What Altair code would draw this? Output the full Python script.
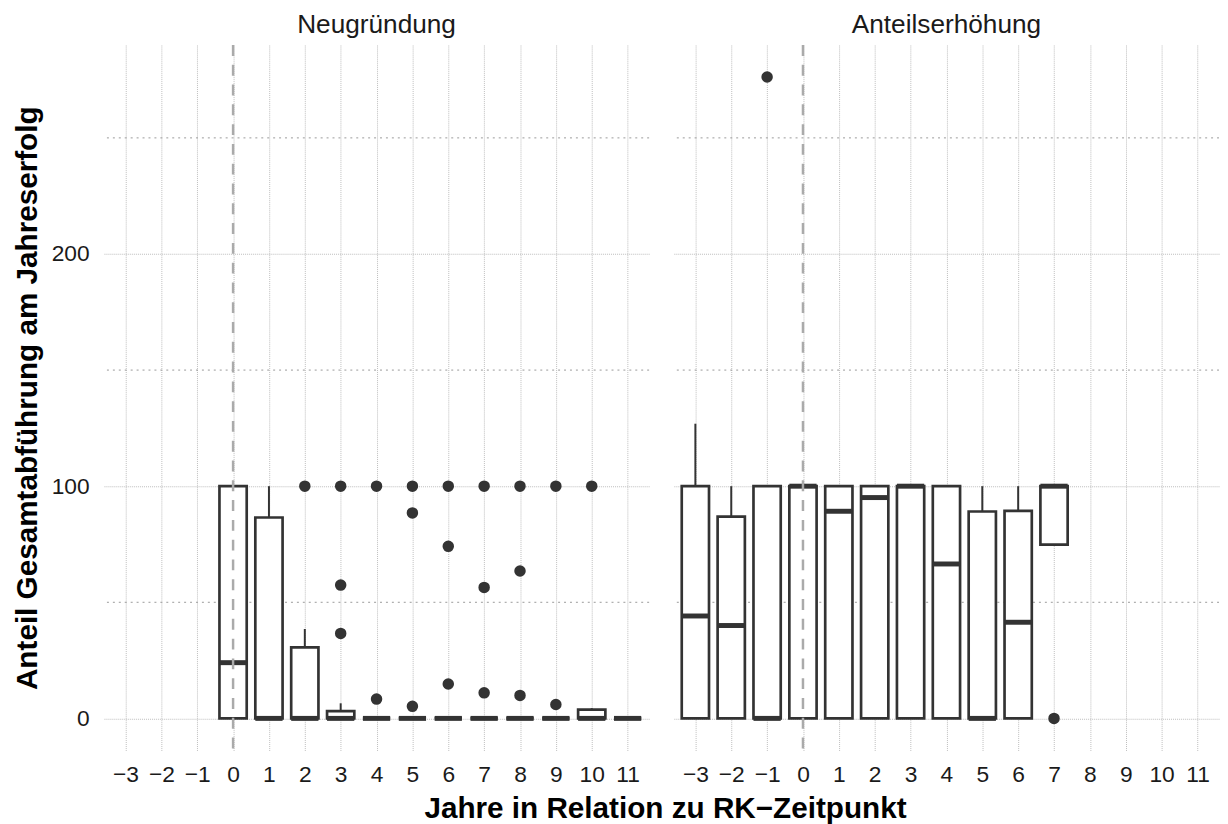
import altair as alt
import pandas as pd

# ---- data ----
# Neugründung: boxplot summaries per year
neu_years = [0, 1, 2, 3, 4, 5, 6, 7, 8, 9, 10, 11]
neu_q1 = [0, 0, 0, 0, 0, 0, 0, 0, 0, 0, 0, 0]
neu_med = [24, 0, 0, 0, 0, 0, 0, 0, 0, 0, 0, 0]
neu_q3 = [100, 86.5, 30.6, 3.1, 0, 0, 0, 0, 0, 0, 3.8, 0]
neu_lo = [0, 0, 0, 0, 0, 0, 0, 0, 0, 0, 0, 0]
neu_hi = [100, 100, 38.5, 6.5, 0, 0, 0, 0, 0, 0, 4.4, 0]
neu_out_years = [2, 3, 3, 3, 4, 4, 5, 5, 5, 6, 6, 6, 7, 7, 7, 8, 8, 8, 9, 9, 10]
neu_out_vals = [100, 100, 57.4, 36.6, 100, 8.3, 100, 88.5, 5.2, 100, 74.1, 14.8,
                100, 56.4, 11.0, 100, 63.5, 9.9, 100, 6.0, 100]

# Anteilserhöhung
ant_years = [-3, -2, -1, 0, 1, 2, 3, 4, 5, 6, 7]
ant_q1 = [0, 0, 0, 0, 0, 0, 0, 0, 0, 0, 74.8]
ant_med = [44.1, 40.0, 0, 100, 89.2, 95.1, 100, 66.5, 0, 41.4, 100]
ant_q3 = [100, 86.9, 100, 100, 100, 100, 100, 100, 89.1, 89.4, 100]
ant_lo = [0, 0, 0, 0, 0, 0, 0, 0, 0, 0, 74.8]
ant_hi = [126.9, 100, 100, 100, 100, 100, 100, 100, 100, 100, 100]
ant_out_years = [-1, 7]
ant_out_vals = [276.2, 0]

x_ticks = list(range(-3, 12))
y_major = [0, 100, 200]
y_minor = [50, 150, 250]
ref_line = [0]

FONT = "Liberation Sans"
DARK = "#333333"
GRID = "#bdbdbd"
W, H = 551, 713
HALF = 0.38

xs = alt.Scale(domain=[-3.6, 11.6], nice=False, zero=False)
ys = alt.Scale(domain=[-13.8, 290], nice=False, zero=False)


def panel(title, years, q1, med, q3, lo, hi, oy, ov, show_y):
    box = pd.DataFrame(dict(year=years, q1=q1, med=med, q3=q3, lo=lo, hi=hi))
    out = pd.DataFrame(dict(year=oy, value=ov))

    xaxis = alt.Axis(values=x_ticks, grid=True, gridDash=[1, 1], gridColor=GRID,
                     gridWidth=1, ticks=False, domain=False, labelFontSize=23,
                     labelPadding=13, labelColor="#1a1a1a", labelFont=FONT,
                     title=None, format="d", labelFlush=False)
    if show_y:
        yaxis = alt.Axis(values=y_major, grid=True, gridDash=[1, 1], gridColor=GRID,
                         gridWidth=1, ticks=False, domain=False, labelFontSize=23,
                         labelPadding=15, labelColor="#1a1a1a", labelFont=FONT,
                         title="Anteil Gesamtabführung am Jahreserfolg",
                         titleFontSize=30, titleFontWeight="bold", titleColor="#000000",
                         titleFont=FONT, titlePadding=9)
    else:
        yaxis = alt.Axis(values=y_major, grid=True, gridDash=[1, 1], gridColor=GRID,
                         gridWidth=1, ticks=False, domain=False, labels=False, title=None)

    X = lambda f: alt.X(f, scale=xs, axis=xaxis)
    Y = lambda f: alt.Y(f, scale=ys, axis=yaxis)

    minor = alt.Chart(pd.DataFrame({"y": y_minor})).mark_rule(
        color="#999999", strokeDash=[2, 4], strokeWidth=1
    ).encode(y=Y("y:Q"))

    base = alt.Chart(box).transform_calculate(
        xl=f"datum.year - {HALF}", xr=f"datum.year + {HALF}"
    )
    whisk_up = base.mark_rule(color=DARK, strokeWidth=2).encode(
        x=X("year:Q"), y=Y("q3:Q"), y2="hi:Q")
    whisk_dn = base.mark_rule(color=DARK, strokeWidth=2).encode(
        x=X("year:Q"), y=Y("lo:Q"), y2="q1:Q")
    rect = base.mark_rect(fill="white", stroke=DARK, strokeWidth=2.7).encode(
        x=X("xl:Q"), x2="xr:Q", y=Y("q1:Q"), y2="q3:Q")
    median = base.mark_rule(color=DARK, strokeWidth=5, strokeCap="butt").encode(
        x=X("xl:Q"), x2="xr:Q", y=Y("med:Q"))
    pts = alt.Chart(out).mark_circle(color=DARK, opacity=1, size=135).encode(
        x=X("year:Q"), y=Y("value:Q"))
    vline = alt.Chart(pd.DataFrame({"x": ref_line})).mark_rule(
        color="#aaaaaa", strokeDash=[11, 9], strokeWidth=2.5
    ).encode(x=X("x:Q"))

    return alt.layer(minor, whisk_up, whisk_dn, rect, median, pts, vline).properties(
        width=W, height=H,
        title=alt.TitleParams(title, fontSize=26.5, fontWeight="normal", color="#1a1a1a",
                              font=FONT, anchor="middle", frame="group", offset=5),
    )


left = panel("Neugründung", neu_years, neu_q1, neu_med, neu_q3, neu_lo, neu_hi,
             neu_out_years, neu_out_vals, True)
right = panel("Anteilserhöhung", ant_years, ant_q1, ant_med, ant_q3, ant_lo, ant_hi,
              ant_out_years, ant_out_vals, False)

chart = alt.hconcat(left, right, spacing=23).properties(
    title=alt.TitleParams("Jahre in Relation zu RK\u2212Zeitpunkt", orient="bottom",
                          anchor="middle", fontSize=30, fontWeight="bold",
                          color="#000000", font=FONT, offset=8, dx=50),
    padding={"left": 4, "top": 0, "right": 0, "bottom": 0},
).configure(font=FONT).configure_view(strokeWidth=0, stroke="transparent")

chart.save("out.html", embed_options={"renderer": "svg", "actions": False})
